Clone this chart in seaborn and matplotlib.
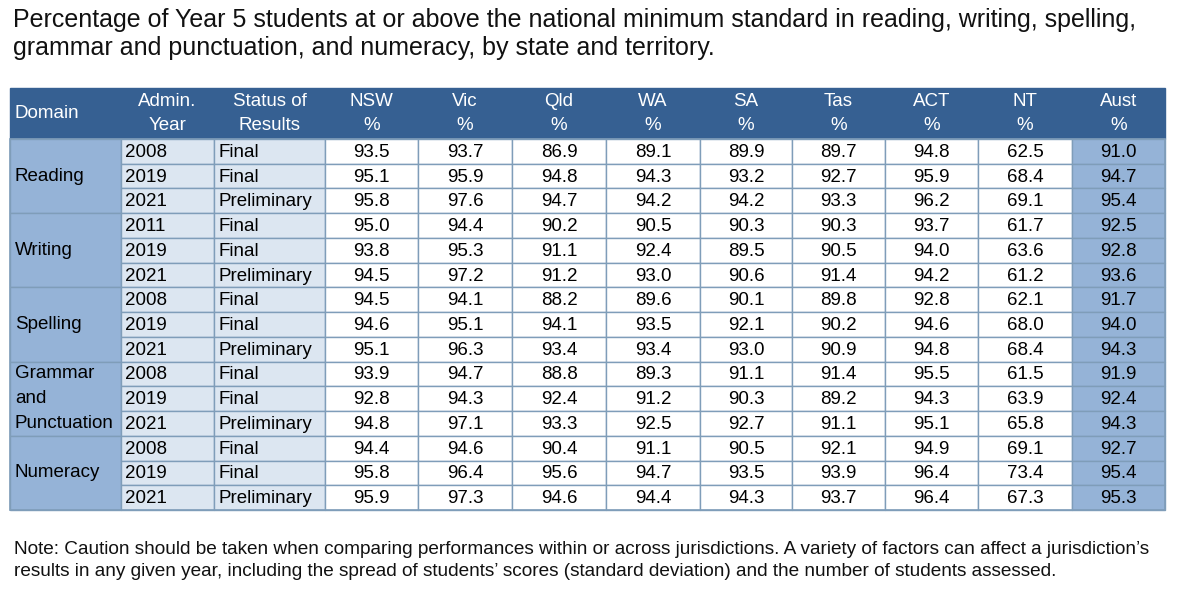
import numpy as np
import pandas as pd
import matplotlib
matplotlib.use("Agg")
import matplotlib.pyplot as plt
import seaborn as sns
from matplotlib.patches import Rectangle

sns.set_theme(style="white")
plt.rcParams['font.family'] = ['Liberation Sans', 'DejaVu Sans']

# ---- data ----
domains = ["Reading", "Writing", "Spelling", "Grammar\nand\nPunctuation", "Numeracy"]
years = [["2008", "2019", "2021"], ["2011", "2019", "2021"], ["2008", "2019", "2021"],
         ["2008", "2019", "2021"], ["2008", "2019", "2021"]]
status = ["Final", "Final", "Preliminary"]
states = ["NSW", "Vic", "Qld", "WA", "SA", "Tas", "ACT", "NT", "Aust"]
nsw = [93.5, 95.1, 95.8, 95.0, 93.8, 94.5, 94.5, 94.6, 95.1, 93.9, 92.8, 94.8, 94.4, 95.8, 95.9]
vic = [93.7, 95.9, 97.6, 94.4, 95.3, 97.2, 94.1, 95.1, 96.3, 94.7, 94.3, 97.1, 94.6, 96.4, 97.3]
qld = [86.9, 94.8, 94.7, 90.2, 91.1, 91.2, 88.2, 94.1, 93.4, 88.8, 92.4, 93.3, 90.4, 95.6, 94.6]
wa = [89.1, 94.3, 94.2, 90.5, 92.4, 93.0, 89.6, 93.5, 93.4, 89.3, 91.2, 92.5, 91.1, 94.7, 94.4]
sa = [89.9, 93.2, 94.2, 90.3, 89.5, 90.6, 90.1, 92.1, 93.0, 91.1, 90.3, 92.7, 90.5, 93.5, 94.3]
tas = [89.7, 92.7, 93.3, 90.3, 90.5, 91.4, 89.8, 90.2, 90.9, 91.4, 89.2, 91.1, 92.1, 93.9, 93.7]
act = [94.8, 95.9, 96.2, 93.7, 94.0, 94.2, 92.8, 94.6, 94.8, 95.5, 94.3, 95.1, 94.9, 96.4, 96.4]
nt = [62.5, 68.4, 69.1, 61.7, 63.6, 61.2, 62.1, 68.0, 68.4, 61.5, 63.9, 65.8, 69.1, 73.4, 67.3]
aust = [91.0, 94.7, 95.4, 92.5, 92.8, 93.6, 91.7, 94.0, 94.3, 91.9, 92.4, 94.3, 92.7, 95.4, 95.3]

df = pd.DataFrame({"NSW": nsw, "Vic": vic, "Qld": qld, "WA": wa, "SA": sa,
                   "Tas": tas, "ACT": act, "NT": nt, "Aust": aust})

# ---- layout (pixels) ----
W, H = 1189, 603
col_x = [10, 121, 214, 325, 418, 512, 606, 700, 792, 885, 978, 1072, 1165]
top, head_bot = 88, 139
row_h = (510 - head_bot) / 15

hdr_c = "#366092"
dom_c = "#95B3D7"
lt_c = "#DCE6F1"
aust_c = "#95B3D7"
line_c = "#7F9DB9"
fs = 13.5

fig = plt.figure(figsize=(W / 100, H / 100), dpi=100)
ax = fig.add_axes([0, 0, 1, 1])
ax.set_xlim(0, W)
ax.set_ylim(H, 0)
ax.axis("off")

def cell(x0, x1, y0, y1, fc, ec=line_c):
    ax.add_patch(Rectangle((x0, y0), x1 - x0, y1 - y0, facecolor=fc, edgecolor=ec, lw=1))

# header
cell(col_x[0], col_x[-1], top, head_bot, hdr_c, hdr_c)
ax.text(col_x[0] + 5, (top + head_bot) / 2, "Domain", color="white", fontsize=fs, va="center", ha="left")
hdrs = ["Admin.\nYear", "Status of\nResults"] + [s + "\n%" for s in states]
for j, h in enumerate(hdrs):
    l1, l2 = h.split("\n")
    xc = (col_x[j + 1] + col_x[j + 2]) / 2
    ax.text(xc, top + 13, l1, color="white", fontsize=fs, ha="center", va="center")
    ax.text(xc, top + 38, l2, color="white", fontsize=fs, ha="center", va="center")

# body
for d, dom in enumerate(domains):
    y0 = head_bot + d * 3 * row_h
    y1 = y0 + 3 * row_h
    cell(col_x[0], col_x[1], y0, y1, dom_c)
    lines = dom.split("\n")
    if len(lines) == 1:
        ax.text(col_x[0] + 5, (y0 + y1) / 2, dom, fontsize=fs, ha="left", va="center", color="black")
    else:
        for k, ln in enumerate(lines):
            ax.text(col_x[0] + 5, y0 + (k + 0.5) * row_h, ln, fontsize=fs, ha="left", va="center", color="black")
    for r in range(3):
        i = d * 3 + r
        ry0 = head_bot + i * row_h
        ry1 = ry0 + row_h
        yc = (ry0 + ry1) / 2 + 1
        cell(col_x[1], col_x[2], ry0, ry1, lt_c)
        ax.text(col_x[1] + 4, yc, years[d][r], fontsize=fs, ha="left", va="center", color="black")
        cell(col_x[2], col_x[3], ry0, ry1, lt_c)
        ax.text(col_x[2] + 5, yc, status[r], fontsize=fs, ha="left", va="center", color="black")
        for j, s in enumerate(states):
            fc = aust_c if s == "Aust" else "white"
            cell(col_x[3 + j], col_x[4 + j], ry0, ry1, fc)
            ax.text((col_x[3 + j] + col_x[4 + j]) / 2, yc, f"{df[s].iloc[i]:.1f}",
                    fontsize=fs, ha="center", va="center", color="black")

ax.add_patch(Rectangle((col_x[0], head_bot), col_x[-1] - col_x[0], 15 * row_h,
                       facecolor="none", edgecolor=line_c, lw=1.2))

# title and note
ax.text(13, 20, "Percentage of Year 5 students at or above the national minimum standard in reading, writing, spelling,",
        fontsize=18, ha="left", va="center", color="#111111")
ax.text(13, 48, "grammar and punctuation, and numeracy, by state and territory.",
        fontsize=18, ha="left", va="center", color="#111111")
ax.text(14, 549, "Note: Caution should be taken when comparing performances within or across jurisdictions. A variety of factors can affect a jurisdiction\u2019s",
        fontsize=13.7, ha="left", va="center", color="#111111")
ax.text(14, 571, "results in any given year, including the spread of students\u2019 scores (standard deviation) and the number of students assessed.",
        fontsize=13.7, ha="left", va="center", color="#111111")

fig.savefig("out.png", dpi=100, facecolor="white")
